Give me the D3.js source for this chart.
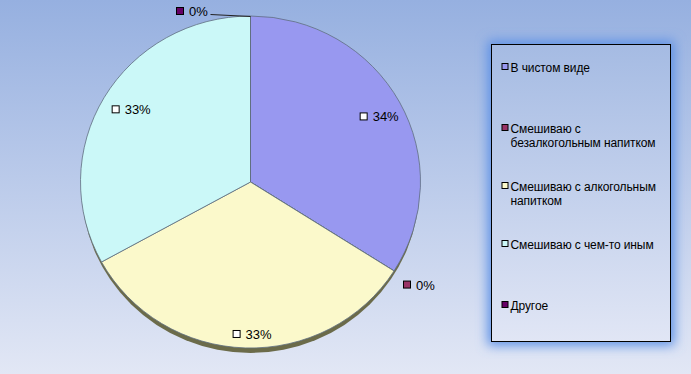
<!DOCTYPE html>
<html>
<head>
<meta charset="utf-8">
<script src="https://cdn.jsdelivr.net/npm/d3@7"></script>
<style>
  html, body { margin: 0; padding: 0; }
  body { width: 691px; height: 374px; overflow: hidden; }
  text { font-family: "Liberation Sans", Arial, sans-serif; }
</style>
</head>
<body>
<script>
// данные
const categories = ["В чистом виде", "Смешиваю с безалкогольным напитком", "Смешиваю с алкогольным напитком", "Смешиваю с чем-то иным", "Другое"];
const legendLines = [["В чистом виде"], ["Смешиваю с", "безалкогольным напитком"], ["Смешиваю с алкогольным", "напитком"], ["Смешиваю с чем-то иным"], ["Другое"]];
const values = [34, 0, 33, 33, 0];
const labels = ["34%", "0%", "33%", "33%", "0%"];
const colors = ["#9898f0", "#993366", "#fbf9cb", "#cbf8f8", "#660066"];

const width = 691, height = 374;
const cx = 250.5, cy = 182, rx = 170, ry = 166;
// радиус подписей (доля радиуса), как расставлено в оригинале
const labelRadius = [0.82, 1.153, 0.916, 0.86, 1.06];

const svg = d3.select("body").append("svg")
    .attr("width", width)
    .attr("height", height);

const defs = svg.append("defs");
const bg = defs.append("linearGradient").attr("id", "bg")
    .attr("x1", 0).attr("y1", 0).attr("x2", 0).attr("y2", 1);
bg.append("stop").attr("offset", "0%").attr("stop-color", "#96b0e0");
bg.append("stop").attr("offset", "100%").attr("stop-color", "#e2e7f5");

const glow = defs.append("filter").attr("id", "glow")
    .attr("x", "-20%").attr("y", "-20%").attr("width", "140%").attr("height", "140%");
glow.append("feGaussianBlur").attr("stdDeviation", 6);

// фон
svg.append("rect").attr("width", width).attr("height", height).attr("fill", "url(#bg)");

// круговая диаграмма
const pie = d3.pie().sort(null).value(d => d)(values);
const arc = d3.arc().innerRadius(0).outerRadius(rx);

const g = svg.append("g").attr("transform", `translate(${cx},${cy}) scale(1,${ry / rx})`);

// тень / толщина
g.append("ellipse")
    .attr("cx", 0).attr("cy", 5)
    .attr("rx", rx - 1).attr("ry", rx)
    .attr("fill", "#6b6b4a");

g.selectAll(".slice")
    .data(pie)
    .enter().append("path")
    .attr("class", "slice")
    .attr("d", arc)
    .attr("fill", (d, i) => colors[i])
    .attr("stroke", "#5f6f80")
    .attr("stroke-width", 0.8)
    .attr("vector-effect", "non-scaling-stroke");

// подписи данных
pie.forEach((d, i) => {
    const r = rx * labelRadius[i];
    let [x, y] = d3.arc().innerRadius(r).outerRadius(r).centroid(d);
    y = y * ry / rx;
    if (d.value === 0 && i === 4) {
        // подпись сверху с линией-выноской
        x = -61.5; y = -171;
        svg.append("line")
            .attr("x1", cx - 40).attr("y1", cy - 167.5)
            .attr("x2", cx).attr("y2", cy - 165.5)
            .attr("stroke", "#222").attr("stroke-width", 1);
    }
    const lg = svg.append("g").attr("transform", `translate(${cx + x},${cy + y})`);
    lg.append("rect")
        .attr("x", -12.5).attr("y", -3.5)
        .attr("width", 7).attr("height", 7)
        .attr("fill", d.value === 0 ? colors[i] : "#fff")
        .attr("stroke", "#000").attr("stroke-width", 1);
    lg.append("text")
        .attr("x", 0).attr("y", 5)
        .attr("font-size", "13px")
        .attr("fill", "#000")
        .text(labels[i]);
});

// легенда
const lx = 491.5, ly = 44.5, lw = 179, lh = 297;
svg.append("rect")
    .attr("x", lx - 4).attr("y", ly - 4).attr("width", lw + 8).attr("height", lh + 8)
    .attr("fill", "#5f92e6").attr("filter", "url(#glow)");
const lgrad = defs.append("linearGradient").attr("id", "lg")
    .attr("x1", 0).attr("y1", 0).attr("x2", 0).attr("y2", 1);
lgrad.append("stop").attr("offset", "0%").attr("stop-color", "#a5bbe3");
lgrad.append("stop").attr("offset", "100%").attr("stop-color", "#e1e6f5");
svg.append("rect")
    .attr("x", lx).attr("y", ly).attr("width", lw).attr("height", lh)
    .attr("fill", "url(#lg)")
    .attr("stroke", "#000").attr("stroke-width", 1);

const itemY = [67, 128, 186, 244, 305];
categories.forEach((c, i) => {
    const it = svg.append("g").attr("transform", `translate(${lx},${itemY[i]})`);
    it.append("rect")
        .attr("x", 10.5).attr("y", -3.5)
        .attr("width", 6).attr("height", 6)
        .attr("fill", colors[i])
        .attr("stroke", "#000").attr("stroke-width", 1);
    legendLines[i].forEach((t, j) => {
        it.append("text")
            .attr("x", 19).attr("y", 4.5 + j * 14)
            .attr("font-size", "12px")
            .attr("letter-spacing", "-0.1px")
            .attr("fill", "#000")
            .text(t);
    });
});
</script>
</body>
</html>
